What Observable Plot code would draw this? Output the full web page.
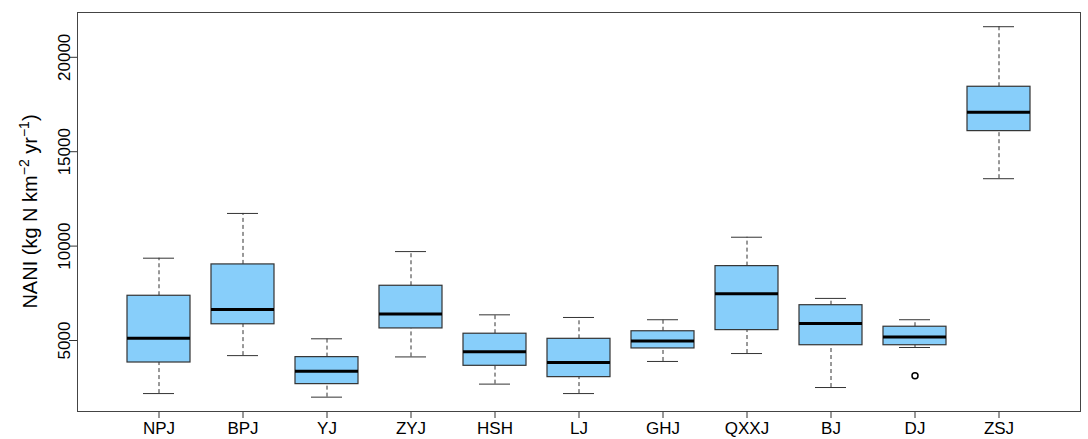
<!DOCTYPE html>
<html><head><meta charset="utf-8">
<script src="https://cdn.jsdelivr.net/npm/d3@7"></script>
<script src="https://cdn.jsdelivr.net/npm/@observablehq/plot@0.6"></script>
<style>body{margin:0;background:#fff;} svg{display:block}</style>
</head><body><div id="chart"></div>
<script>
const categories = ["NPJ","BPJ","YJ","ZYJ","HSH","LJ","GHJ","QXXJ","BJ","DJ","ZSJ"];
const whiskerLow  = [2190, 4200, 2000, 4130, 2690, 2190, 3890, 4310, 2510, 4630, 13570];
const q1Values    = [3835, 5860, 2690, 5640, 3660, 3060, 4580, 5550, 4750, 4750, 16090];
const medians     = [5120, 6640, 3370, 6410, 4400, 3840, 4980, 7470, 5900, 5180, 17090];
const q3Values    = [7370, 9030, 4120, 7900, 5360, 5090, 5490, 8940, 6870, 5730, 18440];
const whiskerHigh = [9360, 11730, 5090, 9710, 6360, 6220, 6100, 10470, 7230, 6100, 21620];
const outlierCats = ["DJ"];
const outlierValues = [3130];
const yTicks = [5000, 10000, 15000, 20000];

const data = categories.map((c, i) => ({cat: c, lo: whiskerLow[i], q1: q1Values[i], med: medians[i], q3: q3Values[i], hi: whiskerHigh[i]}));
const outliers = outlierCats.map((c, i) => ({cat: c, v: outlierValues[i]}));

const lineCol = "#333";
const chart = Plot.plot({
  width: 1088, height: 439,
  marginLeft: 77, marginRight: 8, marginTop: 12, marginBottom: 28,
  style: {fontFamily: "'Liberation Sans', Arial, sans-serif", fontSize: "17px", background: "#fff", color: "#000"},
  x: {type: "band", domain: categories, paddingInner: 0.25, paddingOuter: 0.565, label: null},
  y: {domain: [1240, 22373], label: null},
  marks: [
    Plot.ruleX(data, {x: "cat", y1: "q3", y2: "hi", stroke: lineCol, strokeDasharray: "4,3"}),
    Plot.ruleX(data, {x: "cat", y1: "lo", y2: "q1", stroke: lineCol, strokeDasharray: "4,3"}),
    Plot.tickY(data, {x: "cat", y: "hi", insetLeft: 16, insetRight: 16, stroke: lineCol}),
    Plot.tickY(data, {x: "cat", y: "lo", insetLeft: 16, insetRight: 16, stroke: lineCol}),
    Plot.barY(data, {x: "cat", y1: "q1", y2: "q3", fill: "#87CEFA", stroke: lineCol, strokeWidth: 1.2}),
    Plot.tickY(data, {x: "cat", y: "med", stroke: "#000", strokeWidth: 3}),
    Plot.dot(outliers, {x: "cat", y: "v", r: 3, stroke: "#000", fill: "none", strokeWidth: 1.5}),
    Plot.axisY({ticks: yTicks, tickSize: 8, tickFormat: () => "", label: null, stroke: lineCol}),
    Plot.axisY({ticks: yTicks, tickFormat: d3.format("d"), tickRotate: -90, tickSize: 0, tickPadding: 10, dx: 2, label: null}),
    Plot.axisX({tickSize: 7, tickPadding: 3, label: null, stroke: lineCol}),
    Plot.frame({stroke: "#444"})
  ]
});
document.getElementById("chart").appendChild(chart);

const svg = d3.select(chart);
const t = svg.append("text")
  .attr("transform", "translate(37,211.5) rotate(-90)")
  .attr("text-anchor", "middle")
  .attr("font-family", "'Liberation Sans', Arial, sans-serif")
  .attr("font-size", 20)
  .attr("fill", "#000");
t.append("tspan").text("NANI (kg N km");
t.append("tspan").attr("dy", -8).attr("font-size", 14).text("\u22122");
t.append("tspan").attr("dy", 8).text(" yr");
t.append("tspan").attr("dy", -8).attr("font-size", 14).text("\u22121");
t.append("tspan").attr("dy", 8).text(")");
</script>
</body></html>
